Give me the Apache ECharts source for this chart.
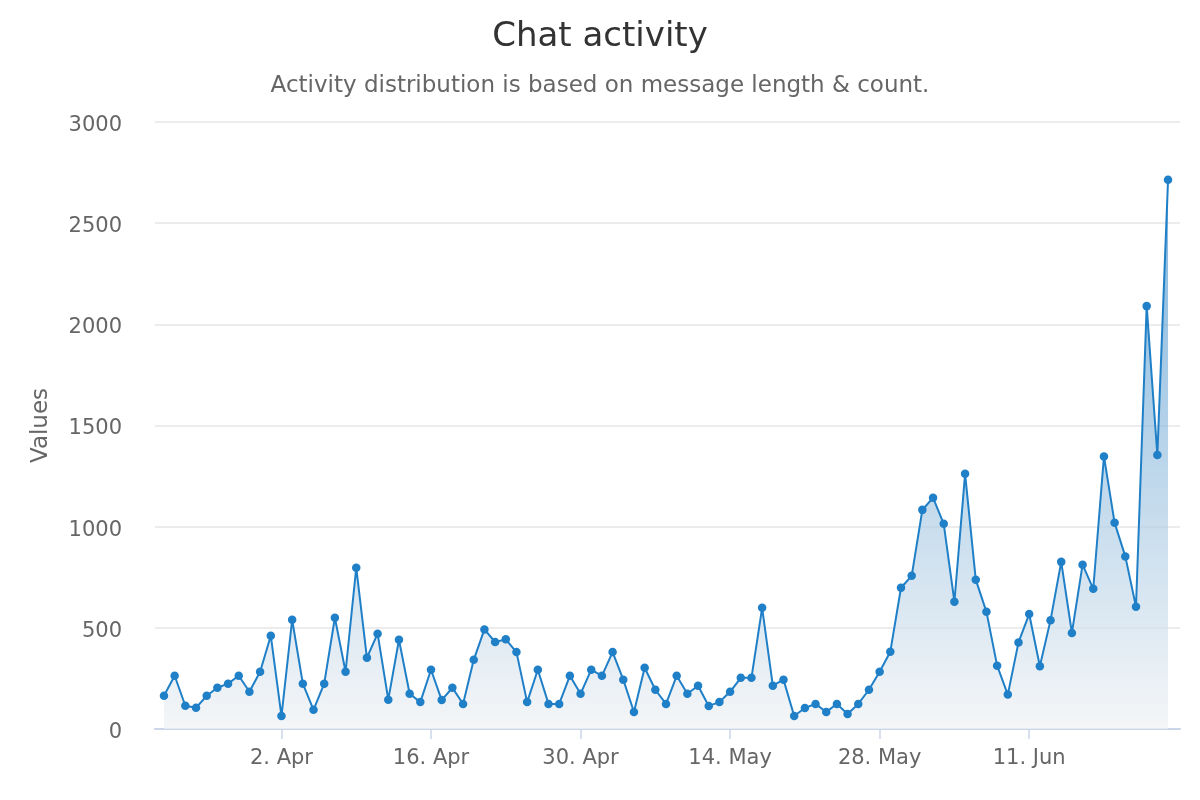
<!DOCTYPE html>
<html>
<head>
<meta charset="utf-8">
<script src="https://cdn.jsdelivr.net/npm/echarts@6/dist/echarts.min.js"></script>
<style>
  html, body { margin: 0; padding: 0; background: #fff; }
  #chart { width: 1200px; height: 800px; }
</style>
</head>
<body>
<div id="chart"></div>
<script>
// ---- data ----
const startDate = [2023, 2, 22]; // 22 Mar (month is 0-based); one value per day
const values = [
  164, 263, 115, 105, 164, 204, 224, 263, 184, 283,
  461, 64, 540, 224, 95, 224, 550, 283, 797, 352,
  471, 145, 441, 174, 133, 293, 143, 204, 124, 342,
  492, 430, 443, 380, 133, 293, 124, 124, 263, 174,
  293, 263, 380, 244, 84, 303, 194, 124, 263, 174,
  214, 114, 133, 184, 253, 253, 599, 214, 244, 64,
  104, 124, 84, 124, 74, 124, 194, 283, 382, 698,
  757, 1083, 1143, 1014, 629, 1261, 738, 579, 313, 170,
  428, 568, 310, 538, 826, 475, 812, 693, 1347, 1019,
  853, 604, 2090, 1354, 2714
];
const tickDates = [[2023, 3, 2], [2023, 3, 16], [2023, 3, 30], [2023, 4, 14], [2023, 4, 28], [2023, 5, 11]];
const monthNames = ['Jan', 'Feb', 'Mar', 'Apr', 'May', 'Jun', 'Jul', 'Aug', 'Sep', 'Oct', 'Nov', 'Dec'];

const DAY = 86400000;
const t0 = Date.UTC(startDate[0], startDate[1], startDate[2]);
const dayIndex = (d) => Math.round((Date.UTC(d[0], d[1], d[2]) - t0) / DAY);
const seriesData = values.map((v, i) => [i, v]);
const tickValues = tickDates.map(dayIndex);
const lastIdx = values.length - 1;
const fmtDay = (idx) => { const d = new Date(t0 + Math.round(idx) * DAY); return d.getUTCDate() + '. ' + monthNames[d.getUTCMonth()]; };

const font = 'DejaVu Sans';
const chart = echarts.init(document.getElementById('chart'));
chart.setOption({
  animation: false,
  backgroundColor: '#ffffff',
  title: [
    { text: 'Chat activity', left: 'center', top: 15,
      textStyle: { fontFamily: font, fontSize: 34, fontWeight: 'normal', color: '#333333' } },
    { text: 'Activity distribution is based on message length & count.', left: 'center', top: 70,
      textStyle: { fontFamily: font, fontSize: 23, fontWeight: 'normal', color: '#666666' } }
  ],
  grid: { left: 155, right: 20, top: 122, bottom: 71, containLabel: false },
  xAxis: {
    type: 'value',
    min: -0.84,
    max: lastIdx + 1.12,
    axisLine: { show: true, lineStyle: { color: '#ccd6eb', width: 2 } },
    axisTick: { show: true, length: 10, lineStyle: { color: '#ccd6eb', width: 1.5 }, customValues: tickValues },
    axisLabel: {
      customValues: tickValues,
      margin: 19,
      fontFamily: font, fontSize: 21, color: '#666666',
      formatter: fmtDay
    },
    splitLine: { show: false }
  },
  yAxis: {
    type: 'value',
    min: 0, max: 3000, interval: 500,
    name: 'Values',
    nameLocation: 'middle',
    nameGap: 102,
    nameTextStyle: { fontFamily: font, fontSize: 23, color: '#666666' },
    axisLine: { show: false },
    axisTick: { show: false },
    axisLabel: {
      margin: 33, fontFamily: font, fontSize: 21, color: '#666666',
      formatter: (v) => '{v|' + v + '}',
      rich: { v: { fontFamily: font, fontSize: 21, color: '#666666', padding: [7, 0, 0, 0] } }
    },
    splitLine: { lineStyle: { color: '#e6e6e6', width: 1.5 } }
  },
  series: [{
    type: 'line',
    data: seriesData,
    symbol: 'circle',
    symbolSize: 8.5,
    showSymbol: true,
    lineStyle: { color: '#1f7fc7', width: 2 },
    itemStyle: { color: '#1f7fc7' },
    areaStyle: {
      color: new echarts.graphic.LinearGradient(0, 0, 0, 1, [
        { offset: 0, color: 'rgb(72,148,206)' },
        { offset: 1, color: 'rgb(240,242,244)' }
      ])
    }
  }]
});
</script>
</body>
</html>
